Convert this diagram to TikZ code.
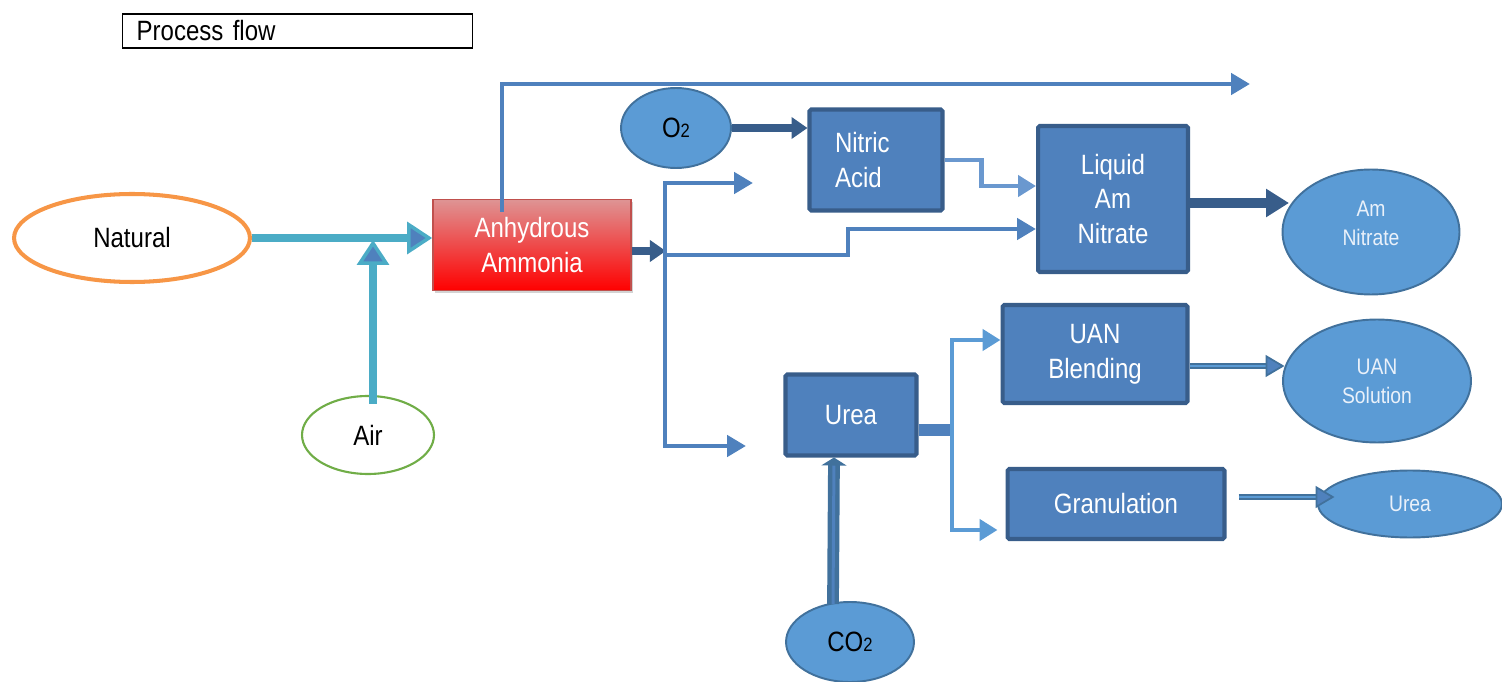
\documentclass[tikz,border=0pt]{standalone}
\usepackage{fontspec}
\setmainfont{Liberation Sans}[FakeStretch=0.86]
\usetikzlibrary{calc, shapes, arrows.meta, shadows}

\definecolor{lineblue}{HTML}{4F81BD}
\definecolor{boxedge}{HTML}{385D8A}
\definecolor{ellfill}{HTML}{5B9BD5}
\definecolor{elledge}{HTML}{41719C}
\definecolor{gasteal}{HTML}{4BACC6}
\definecolor{gasorange}{HTML}{F79646}
\definecolor{airgreen}{HTML}{70AD47}
\definecolor{nitline}{HTML}{6A98CF}
\definecolor{ammtop}{HTML}{DE9494}
\definecolor{ammbot}{HTML}{FF0000}
\definecolor{ammedge}{HTML}{C0504D}
\definecolor{paletext}{HTML}{EAF1FA}

\newcommand{\bigtxt}{\fontsize{15.9pt}{19.8pt}\selectfont}
\newcommand{\smalltxt}{\fontsize{12.8pt}{16.4pt}\selectfont}
\newcommand{\subtxt}{\fontsize{11pt}{11pt}\selectfont}

\tikzstyle{unit} = [rectangle, draw=boxedge, line width=2.3pt, fill=lineblue, text=white, align=center, rounded corners=1pt, font=\bigtxt]
\tikzstyle{product} = [ellipse, draw=elledge, line width=1.1pt, fill=ellfill, inner sep=0pt, align=center]
\tikzstyle{flow} = [lineblue, line width=2.8pt, -{Triangle[length=0.38cm, width=0.42cm]}]
\tikzstyle{heavy} = [boxedge, line width=4.8pt, -{Triangle[length=0.32cm, width=0.42cm]}]
\tikzstyle{feed} = [gasteal, line width=4pt, -{Triangle[length=0.5cm, width=0.64cm, line width=2pt, fill=lineblue]}]
\tikzstyle{split} = [ellfill, line width=2.6pt, -{Triangle[length=0.36cm, width=0.42cm]}]
\tikzstyle{twin} = [elledge, double=ellfill, line width=1.15pt, double distance=1.1pt, -{Triangle[length=0.38cm, width=0.44cm, line width=1pt, fill=lineblue]}]

\begin{document}
\begin{tikzpicture}[x=0.02cm, y=-0.02cm]
        \useasboundingbox (0,0) rectangle (1502,682);

        \node[draw, line width=0.8pt, anchor=west, minimum height=0.68cm, text width=6.44cm, inner xsep=0.28cm, align=left, font=\bigtxt] (title) at (122,31) {Process flow};

        % feeds
        \node[ellipse, draw=gasorange, line width=2.3pt, fill=white, minimum width=4.72cm, minimum height=1.76cm, font=\bigtxt] (natural) at (132,238) {Natural};
        \node[ellipse, draw=airgreen, line width=1.2pt, fill=white, minimum width=2.64cm, minimum height=1.56cm, font=\bigtxt] (air) at (368,435) {Air};
        \node[product, minimum width=2.2cm, minimum height=1.6cm, font=\bigtxt] (oxygen) at (676,128) {O{\subtxt 2}};
        \node[product, minimum width=2.56cm, minimum height=1.6cm, font=\bigtxt] (co2) at (850,642) {CO{\subtxt 2}};

        % units
        \node[rectangle, draw=ammedge, line width=1pt, top color=ammtop, bottom color=ammbot, text=white, minimum width=3.96cm, minimum height=1.82cm, align=center, font=\bigtxt, drop shadow={shadow xshift=1.2pt, shadow yshift=-1.2pt, opacity=0.35}] (ammonia) at (532,245) {Anhydrous\\Ammonia};
        \node[unit, minimum width=2.66cm, minimum height=2.02cm, text width=1.64cm, align=left] (nitric) at (876,160) {Nitric\\Acid};
        \node[unit, minimum width=3.0cm, minimum height=2.92cm] (liquid) at (1113,199) {Liquid\\Am\\Nitrate};
        \node[unit, minimum width=2.62cm, minimum height=1.62cm] (urea) at (851,415) {Urea};
        \node[unit, minimum width=3.7cm, minimum height=1.96cm] (uan) at (1095,354) {UAN\\Blending};
        \node[unit, minimum width=4.34cm, minimum height=1.4cm] (gran) at (1116,504) {Granulation};

        % products
        \node[product, minimum width=3.54cm, minimum height=2.5cm, text=paletext, font=\smalltxt, text depth=9.6pt] (amnit) at (1371,232) {Am\\Nitrate};
        \node[product, minimum width=3.76cm, minimum height=2.46cm, text=paletext, font=\smalltxt] (uansol) at (1377,381) {UAN\\Solution};
        \node[product, minimum width=3.68cm, minimum height=1.34cm, text=paletext, font=\smalltxt] (ureaout) at (1410,504) {Urea};

        \coordinate (topend) at (1250,84);
        \coordinate (junc) at (665,255);
        \coordinate (feedtop) at (753,183);
        \coordinate (feedbot) at (746,446);
        \coordinate (ureasplit) at (952,430);

        \draw[feed] (natural.east) -- (natural.east -| ammonia.west);
        \draw[feed] ($(air.north)+(5,9)$) -- ($(air.north |- natural.east)+(5,2)$);

        \draw[flow] ($(ammonia.north)+(-30,13)$) |- (topend);
        \draw[heavy] ($(ammonia.east)+(0,6)$) -- ++(34,0);
        \draw[flow] (junc) -- (848,255) |- ($(liquid.west)+(0,30)$);
        \draw[flow] (junc) |- (feedtop);
        \draw[flow] (junc) |- (feedbot);

        \draw[heavy] (oxygen.east) -- (oxygen.east -| nitric.west);
        \draw[nitline, line width=2.8pt, -{Triangle[length=0.36cm, width=0.42cm]}] (nitric.east) -- ++(37,0) |- ($(liquid.west)+(0,-13)$);
        \draw[boxedge, line width=5.2pt, -{Triangle[length=0.46cm, width=0.54cm]}] ($(liquid.east)+(0,4)$) -- ++(99,0);

        \draw[lineblue, line width=6.8pt] ($(urea.east)+(0,15)$) -- (ureasplit);
        \draw[split] (ureasplit) |- ($(uan.west)+(0,-14)$);
        \draw[split] (ureasplit) |- ($(gran.west)+(-8,26)$);
        \draw[elledge, double=lineblue, line width=2.5pt, double distance=1.7pt, -{Triangle[length=0.16cm, width=0.5cm]}] ($(co2.north)+(-17,3)$) -- ($(urea.south)+(-17,0)$);

        \draw[twin] ($(uan.east)+(0,12)$) -- ++(95,0);
        \draw[twin] ($(gran.east)+(12,-7)$) -- ++(96,0);

    \end{tikzpicture}
\end{document}
